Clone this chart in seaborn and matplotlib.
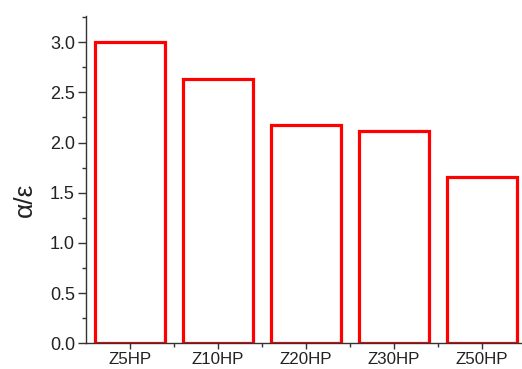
import matplotlib
matplotlib.use("Agg")
import matplotlib.pyplot as plt
from matplotlib.ticker import MultipleLocator, FixedLocator, FormatStrFormatter
import seaborn as sns
import pandas as pd

samples = ["Z5HP", "Z10HP", "Z20HP", "Z30HP", "Z50HP"]
ratio = [3.00, 2.63, 2.17, 2.11, 1.66]

df = pd.DataFrame({"sample": samples, "ratio": ratio})

sns.set_style("ticks")
plt.rcParams["font.family"] = ["Liberation Sans", "DejaVu Sans"]

fig = plt.figure(figsize=(5.22, 3.69), dpi=100)
ax = fig.add_axes([0.1648, 0.0696, 0.843, 0.887])

sns.barplot(data=df, x="sample", y="ratio", color="white", edgecolor="#ff0000",
            linewidth=2.3, width=0.8, saturation=1, ax=ax)

ax.set_xlim(-0.5, 4.5)
ax.set_ylim(0, 3.26)
ax.yaxis.set_major_locator(MultipleLocator(0.5))
ax.yaxis.set_minor_locator(MultipleLocator(0.25))
ax.xaxis.set_minor_locator(FixedLocator([0.5, 1.5, 2.5, 3.5]))
ax.yaxis.set_major_formatter(FormatStrFormatter("%.1f"))

ax.tick_params(axis="y", which="major", length=6, width=1, color="#333333",
               labelsize=13, labelcolor="#222222", pad=2)
ax.tick_params(axis="x", which="major", length=4.5, width=1, color="#333333",
               labelsize=12.2, labelcolor="#222222", pad=1.5)
ax.tick_params(axis="both", which="minor", length=3, width=1, color="#333333")

for side in ("top", "right"):
    ax.spines[side].set_visible(False)
for side in ("left", "bottom"):
    ax.spines[side].set_color("#333333")
    ax.spines[side].set_linewidth(1)
    ax.spines[side].set_zorder(5)

ax.set_xlabel("")
ax.set_ylabel("α/ε", fontsize=19, color="#222222")
ax.yaxis.set_label_coords(-0.111, 0.438)

fig.savefig("out.png", dpi=100, facecolor="white")
